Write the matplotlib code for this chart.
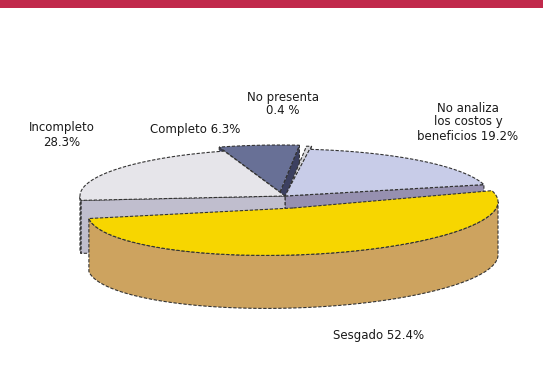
import numpy as np
import matplotlib
matplotlib.use("Agg")
import matplotlib.pyplot as plt
from matplotlib.patches import Polygon, Rectangle

# ---- data ----
categories = ["Sesgado", "No analiza los costos y beneficios", "No presenta", "Completo", "Incompleto"]
values = [52.4, 19.2, 0.4, 6.3, 21.7]
labels = ["Sesgado 52.4%", "No analiza\nlos costos y\nbeneficios 19.2%", "No presenta\n0.4 %",
          "Completo 6.3%", "Incompleto\n28.3%"]

# ---- style ----
top_colors = ["#f7d600", "#c8cce8", "#d8d8dc", "#687096", "#e6e5ea"]
side_colors = ["#cda35f", "#9690b0", "#b0b0b8", "#3c4060", "#c0bece"]
offsets = [(8, 12), (0, 0), (2, -3), (-5, -4), (0, 0)]
shears = [-0.03, 0, 0, 0, 0]
label_pos = [(379, 336), (468, 122), (283, 104), (195, 129), (62, 135)]

W, H = 543, 382
CX, CY, RX, RY, DEPTH = 285, 196, 205, 47, 53
END_SESGADO = 14.0  # angle (deg) where first slice ends

fig = plt.figure(figsize=(W / 100, H / 100), dpi=100)
ax = fig.add_axes([0, 0, 1, 1])
ax.set_xlim(0, W)
ax.set_ylim(H, 0)
ax.axis("off")

ax.add_patch(Rectangle((0, 0), W, 8, color="#c1294b", lw=0))

total = sum(values)
spans = [v / total * 360 for v in values]
start = END_SESGADO - spans[0]
angles = []
a = start
for s in spans:
    angles.append((a, a + s))
    a += s

edge_kw = dict(edgecolor="#333333", linewidth=0.8, linestyle=(0, (3, 1.5)))


def draw_slice(i):
    a, b = angles[i]
    cx, cy = CX + offsets[i][0], CY + offsets[i][1]
    k = shears[i]

    def rim(t):
        r = np.radians(t)
        x = cx + RX * np.cos(r)
        y = cy - RY * np.sin(r) + k * (x - cx)
        return x, y

    ts = np.linspace(a, b, max(int(abs(b - a) * 2), 3))
    # radial faces facing viewer
    for t, vis in ((a, np.cos(np.radians(a)) > 0), (b, np.cos(np.radians(b)) < 0)):
        if vis:
            x, y = rim(t)
            quad = [(cx, cy), (x, y), (x, y + DEPTH), (cx, cy + DEPTH)]
            ax.add_patch(Polygon(quad, closed=True, facecolor=side_colors[i], **edge_kw))
    # outer wall (front half)
    mask = np.sin(np.radians(ts)) <= 0
    if mask.sum() >= 2:
        xs, ys = rim(ts[mask])
        pts = list(zip(xs, ys)) + list(zip(xs[::-1], ys[::-1] + DEPTH))
        ax.add_patch(Polygon(pts, closed=True, facecolor=side_colors[i], **edge_kw))
    # top
    xs, ys = rim(ts)
    pts = [(cx, cy)] + list(zip(xs, ys))
    ax.add_patch(Polygon(pts, closed=True, facecolor=top_colors[i], **edge_kw))


for i in [3, 2, 1, 4, 0]:
    draw_slice(i)

for lab, (x, y) in zip(labels, label_pos):
    ax.text(x, y, lab, ha="center", va="center", fontsize=8.5, color="#1a1a1a",
            family="DejaVu Sans", linespacing=1.1)

fig.savefig("out.png", dpi=100)
